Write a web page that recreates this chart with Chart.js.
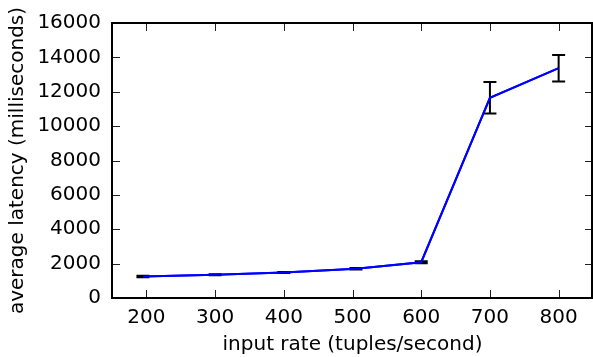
<!DOCTYPE html>
<html>
<head>
<meta charset="utf-8">
<script src="https://cdn.jsdelivr.net/npm/chart.js@4/dist/chart.umd.min.js"></script>
<style>
html,body{margin:0;padding:0;background:#fff;}
#wrap{width:593px;height:357px;}
</style>
</head>
<body>
<div id="wrap"><canvas id="c" width="593" height="357"></canvas></div>
<script>
const inputRates = [195, 300, 400, 505, 600, 700, 800];
const avgLatency = [1250, 1350, 1480, 1700, 2080, 11650, 13370];
const latencyErr = [40, 30, 30, 40, 60, 920, 770];
const xTickValues = [200, 300, 400, 500, 600, 700, 800];
const yTickValues = [0, 2000, 4000, 6000, 8000, 10000, 12000, 14000, 16000];

const FONT = "'DejaVu Sans', sans-serif";

const framePlugin = {
  id: 'frame',
  afterDatasetsDraw(chart) {
    const ctx = chart.ctx;
    const a = chart.chartArea;
    const xs = chart.scales.x, ys = chart.scales.y;
    ctx.save();
    ctx.strokeStyle = '#000';
    ctx.lineWidth = 2;
    inputRates.forEach((xv, i) => {
      const px = xs.getPixelForValue(xv);
      const top = ys.getPixelForValue(avgLatency[i] + latencyErr[i]);
      const bot = ys.getPixelForValue(avgLatency[i] - latencyErr[i]);
      ctx.beginPath();
      ctx.moveTo(px, top); ctx.lineTo(px, bot);
      ctx.moveTo(px - 6.5, top); ctx.lineTo(px + 6.5, top);
      ctx.moveTo(px - 6.5, bot); ctx.lineTo(px + 6.5, bot);
      ctx.stroke();
    });
    const meta = chart.getDatasetMeta(0);
    ctx.strokeStyle = '#0000ff';
    ctx.lineWidth = 2;
    ctx.beginPath();
    meta.data.forEach((p, i) => { if (i === 0) ctx.moveTo(p.x, p.y); else ctx.lineTo(p.x, p.y); });
    ctx.stroke();
    ctx.strokeStyle = '#222';
    ctx.lineWidth = 1;
    const tl = 8;
    xTickValues.forEach(v => {
      const px = Math.round(xs.getPixelForValue(v)) + 0.5;
      ctx.beginPath();
      ctx.moveTo(px, a.bottom); ctx.lineTo(px, a.bottom - tl);
      ctx.moveTo(px, a.top); ctx.lineTo(px, a.top + tl);
      ctx.stroke();
    });
    yTickValues.forEach(v => {
      const py = Math.round(ys.getPixelForValue(v)) + 0.5;
      ctx.beginPath();
      ctx.moveTo(a.left, py); ctx.lineTo(a.left + tl, py);
      ctx.moveTo(a.right, py); ctx.lineTo(a.right - tl, py);
      ctx.stroke();
    });
    ctx.strokeStyle = '#000';
    ctx.lineWidth = 2;
    ctx.strokeRect(a.left, a.top, a.right - a.left - 1, a.bottom - a.top);
    ctx.restore();
  }
};

new Chart(document.getElementById('c'), {
  type: 'line',
  data: {
    datasets: [{
      data: inputRates.map((x, i) => ({x: x, y: avgLatency[i]})),
      borderColor: '#0000ff',
      borderWidth: 2,
      pointRadius: 0,
      tension: 0,
      fill: false
    }]
  },
  options: {
    responsive: false,
    animation: false,
    devicePixelRatio: 1,
    layout: {padding: {top: 23, right: 0, left: 0, bottom: 0}},
    plugins: {legend: {display: false}, tooltip: {enabled: false}},
    scales: {
      x: {
        type: 'linear', min: 150, max: 850,
        afterBuildTicks: s => { s.ticks = xTickValues.map(v => ({value: v})); },
        afterFit: s => { s.height = 59; },
        grid: {display: false, drawTicks: false},
        border: {display: false},
        ticks: {color: '#000', font: {family: FONT, size: 20}, padding: 8, maxRotation: 0, autoSkip: false,
                callback: v => String(v)},
        title: {display: true, text: 'input rate (tuples/second)', color: '#000', font: {family: FONT, size: 20}, padding: {top: 0, bottom: 0}}
      },
      y: {
        type: 'linear', min: 0, max: 16000,
        afterBuildTicks: s => { s.ticks = yTickValues.map(v => ({value: v})); },
        afterFit: s => { s.width = 112; },
        grid: {display: false, drawTicks: false},
        border: {display: false},
        ticks: {color: '#000', font: {family: FONT, size: 20}, padding: 11, autoSkip: false,
                callback: v => String(v)},
        title: {display: true, text: 'average latency (milliseconds)', color: '#000', font: {family: FONT, size: 20}, padding: {top: 6, bottom: 0}}
      }
    }
  },
  plugins: [framePlugin]
});
</script>
</body>
</html>
